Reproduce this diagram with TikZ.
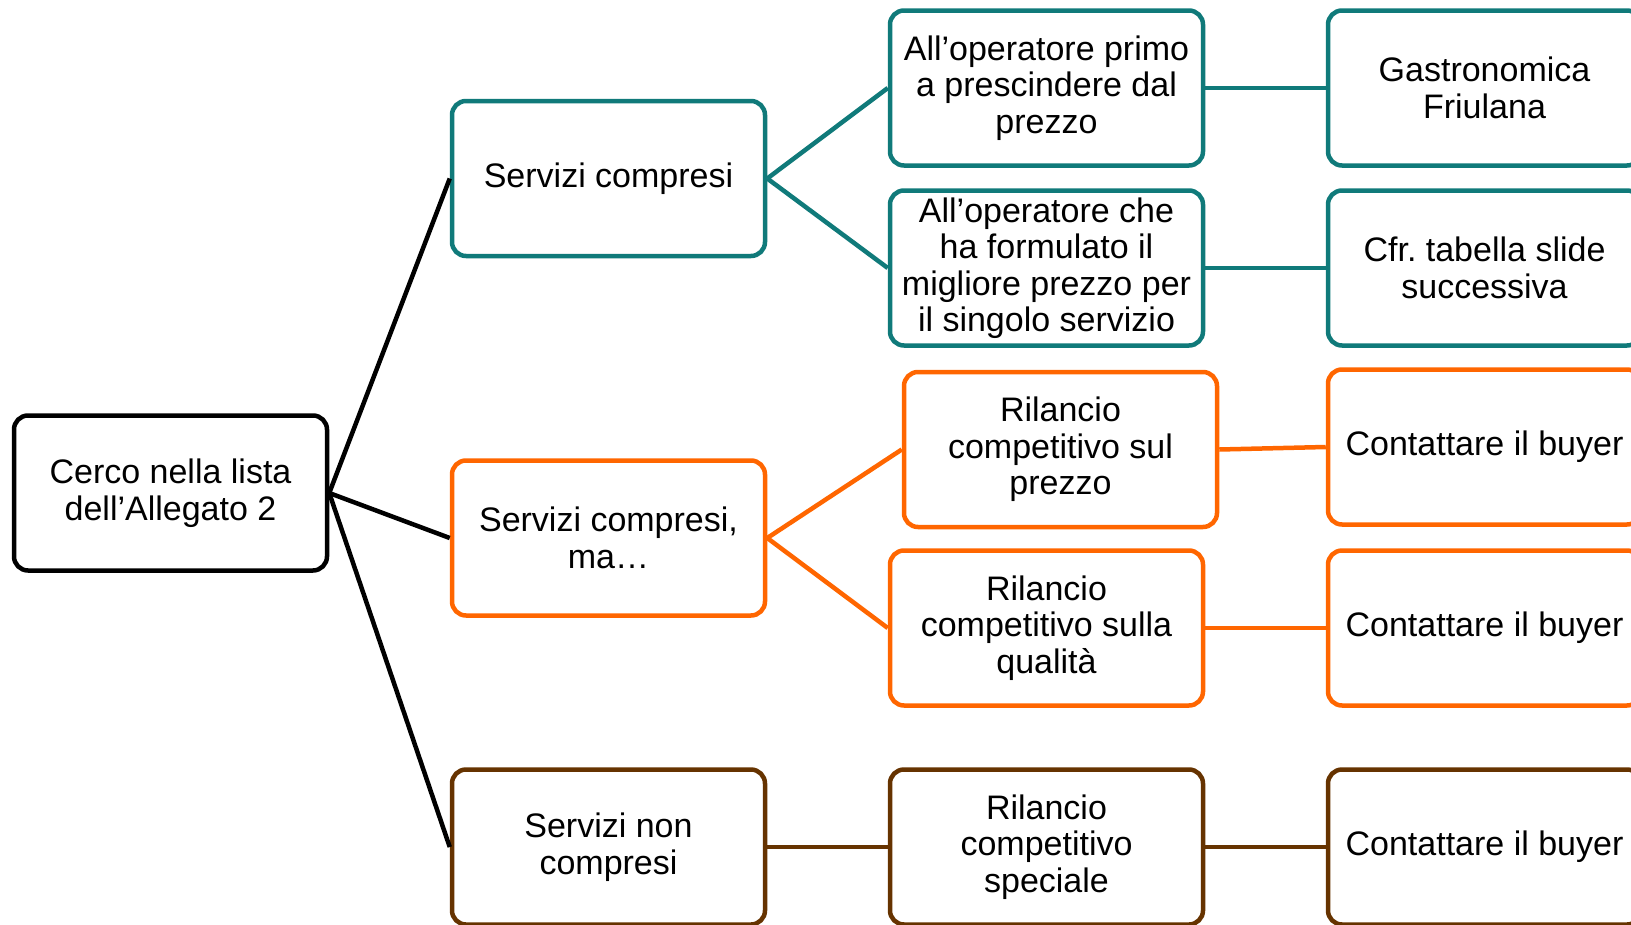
\documentclass[tikz,border=0pt]{standalone}
\usepackage{fontspec}
\setmainfont{Liberation Sans}
\usepackage{tikz}
\usetikzlibrary{positioning}
\definecolor{teal1}{RGB}{16,122,122}
\definecolor{orange1}{RGB}{255,102,0}
\definecolor{brown1}{RGB}{102,51,0}
\tikzset{box/.style = {draw, rounded corners = 14, line width = 4.5, fill = white,
    minimum width = 313, minimum height = 155, inner sep = 0, align = center,
    font = \fontsize{34}{36.5}\selectfont}}
\tikzset{link/.style = {line width = 4.5}}

\begin{document}
\begin{tikzpicture}[x = 1pt, y = -1pt]
    \useasboundingbox (0, 0) rectangle (1631, 924);

    \node [box] (root) at (170.5, 493) {Cerco nella lista\\dell’Allegato 2};

    \node [box, draw = teal1] (comp) at (608.5, 178.5) {Servizi compresi};
    \node [box, draw = orange1] (compma) at (608.5, 538) {Servizi compresi,\\ma…};
    \node [box, draw = brown1] (noncomp) at (608.5, 847) {Servizi non\\compresi};

    \node [box, draw = teal1] (primo) at (1046.5, 88) {All’operatore primo\\a prescindere dal\\prezzo};
    \node [box, draw = teal1] (migliore) at (1046.5, 268) {All’operatore che\\ha formulato il\\migliore prezzo per\\il singolo servizio};
    \node [box, draw = orange1] (rilprezzo) at (1060.5, 449.5) {Rilancio\\competitivo sul\\prezzo};
    \node [box, draw = orange1] (rilqual) at (1046.5, 628) {Rilancio\\competitivo sulla\\qualità};
    \node [box, draw = brown1] (rilspec) at (1046.5, 847) {Rilancio\\competitivo\\speciale};

    \node [box, draw = teal1] (gastro) at (1484.5, 88) {Gastronomica\\Friulana};
    \node [box, draw = teal1] (cfr) at (1484.5, 268) {Cfr.\ tabella slide\\successiva};
    \node [box, draw = orange1] (buyera) at (1484.5, 447) {Contattare il buyer};
    \node [box, draw = orange1] (buyerb) at (1484.5, 628) {Contattare il buyer};
    \node [box, draw = brown1] (buyerc) at (1484.5, 847) {Contattare il buyer};

    \draw [link] (root.east) -- (comp.west);
    \draw [link] (root.east) -- (compma.west);
    \draw [link] (root.east) -- (noncomp.west);

    \draw [link, teal1] (comp.east) -- (primo.west);
    \draw [link, teal1] (comp.east) -- (migliore.west);
    \draw [link, teal1] (primo.east) -- (gastro.west);
    \draw [link, teal1] (migliore.east) -- (cfr.west);

    \draw [link, orange1] (compma.east) -- (rilprezzo.west);
    \draw [link, orange1] (compma.east) -- (rilqual.west);
    \draw [link, orange1] (rilprezzo.east) -- (buyera.west);
    \draw [link, orange1] (rilqual.east) -- (buyerb.west);

    \draw [link, brown1] (noncomp.east) -- (rilspec.west);
    \draw [link, brown1] (rilspec.east) -- (buyerc.west);
  \end{tikzpicture}
\end{document}
